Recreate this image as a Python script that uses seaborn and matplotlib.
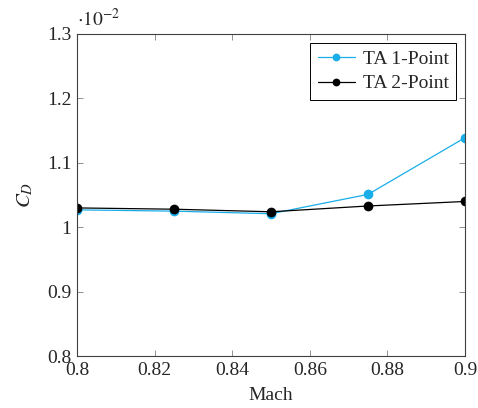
import matplotlib
matplotlib.use("Agg")
import matplotlib.pyplot as plt
import seaborn as sns
import pandas as pd

mach = [0.8, 0.825, 0.85, 0.875, 0.9]
ta1 = [1.027, 1.025, 1.021, 1.051, 1.139]
ta2 = [1.030, 1.028, 1.024, 1.033, 1.040]
series_names = ["TA 1-Point", "TA 2-Point"]
xticks = [0.8, 0.82, 0.84, 0.86, 0.88, 0.9]
yticks = [0.8, 0.9, 1.0, 1.1, 1.2, 1.3]
ytick_labels = ["0.8", "0.9", "1", "1.1", "1.2", "1.3"]

sns.set_style("ticks")
plt.rcParams["font.family"] = ["Liberation Serif", "DejaVu Serif"]
plt.rcParams["mathtext.fontset"] = "stix"

df = pd.DataFrame({
    "Mach": mach * 2,
    "CD": ta1 + ta2,
    "series": [series_names[0]] * len(mach) + [series_names[1]] * len(mach),
})

fig = plt.figure(figsize=(4.78, 4.08), dpi=100)
ax = fig.add_axes([0.161, 0.127, 0.812, 0.790])
palette = {series_names[0]: "#19AEE8", series_names[1]: "black"}
sns.lineplot(data=df, x="Mach", y="CD", hue="series", palette=palette,
             marker="o", markersize=7, markeredgewidth=0, linewidth=0.9, ax=ax)

ax.set_xlim(0.8, 0.9)
ax.set_ylim(0.8, 1.3)
ax.set_xticks(xticks)
ax.set_xticklabels([f"{t:g}" for t in xticks])
ax.set_yticks(yticks)
ax.set_yticklabels(ytick_labels)
ax.tick_params(direction="in", top=True, right=True, labelsize=14, length=4,
               width=0.6, color="#808080", pad=4)
for s in ax.spines.values():
    s.set_linewidth(0.8)
    s.set_color("#404040")
ax.set_xlabel("Mach", fontsize=14, labelpad=6)
ax.set_ylabel("$C_D$", fontsize=15, labelpad=8)
ax.text(0.0, 1.012, r"$\cdot 10^{-2}$", transform=ax.transAxes, fontsize=14,
        ha="left", va="bottom")
leg = ax.legend(loc="upper right", fontsize=14, frameon=True, fancybox=False,
                edgecolor="black", framealpha=1, borderpad=0.4, handlelength=1.9,
                handletextpad=0.4, labelspacing=0.35, borderaxespad=0.45,
                markerscale=0.8)
leg.get_frame().set_linewidth(0.7)
fig.savefig("out.png", dpi=100)
